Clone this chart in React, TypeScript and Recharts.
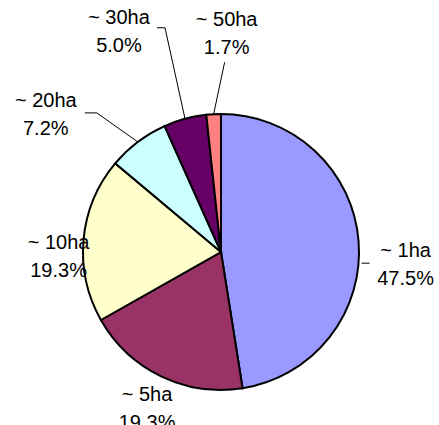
import { Cell, Pie, PieChart } from 'recharts'

const categories = ['~ 1ha', '~ 5ha', '~ 10ha', '~ 20ha', '~ 30ha', '~ 50ha']
const shares = [47.5, 19.3, 19.3, 7.2, 5.0, 1.7]
const colors = ['#9999FF', '#993366', '#FFFFCC', '#CCFFFF', '#660066', '#FF8080']

// label block offset from the slice edge point, plus leader polyline (relative to edge)
const labelLayout: { dx: number; dy: number; leader: number[][] | null }[] = [
  { dx: 47, dy: 23, leader: [[3, 22], [11, 22]] },
  { dx: -14, dy: 32, leader: null },
  { dx: -25, dy: 17, leader: null },
  { dx: -92, dy: -28, leader: [[0, 0], [-41, -29], [-53, -29]] },
  { dx: -66, dy: -88, leader: [[0, 0], [-20, -91], [-28, -91]] },
  { dx: 13, dy: -81, leader: [[0, 0], [11, -52]] },
]

const chartData = categories.map((name, i) => ({ name, value: shares[i] }))

const RADIAN = Math.PI / 180

function edgePoint(cx: number, cy: number, r: number, angle: number) {
  return { x: cx + r * Math.cos(-angle * RADIAN), y: cy + r * Math.sin(-angle * RADIAN) }
}

function renderLabel(props: any) {
  const { cx, cy, midAngle, outerRadius, index, name, value } = props
  const p = edgePoint(cx, cy, outerRadius, midAngle)
  const l = labelLayout[index]
  const x = p.x + l.dx
  const y = p.y + l.dy
  return (
    <text
      x={x}
      y={y}
      textAnchor="middle"
      fontFamily="'Liberation Sans', Arial, sans-serif"
      fontSize={20}
      fill="#000"
    >
      <tspan x={x} y={y - 14} dominantBaseline="central">{name}</tspan>
      <tspan x={x} y={y + 14} dominantBaseline="central">{Number(value).toFixed(1)}%</tspan>
    </text>
  )
}

function renderLabelLine(props: any) {
  const { points, index } = props
  const l = labelLayout[index]
  if (!l.leader) return <g />
  const p = points[0]
  const d = l.leader.map((pt, i) => `${i === 0 ? 'M' : 'L'}${p.x + pt[0]},${p.y + pt[1]}`).join(' ')
  return <path d={d} stroke="#000" strokeWidth={1} fill="none" />
}

export default function App() {
  return (
    <div style={{ position: 'absolute', left: 0, top: 0, background: '#fff' }}>
      <PieChart width={439} height={425} margin={{ top: 0, right: 0, bottom: 0, left: 0 }}>
        <Pie
          data={chartData}
          dataKey="value"
          nameKey="name"
          cx={221}
          cy={252}
          outerRadius={138}
          startAngle={90}
          endAngle={-270}
          stroke="#000"
          strokeWidth={2}
          label={renderLabel}
          labelLine={renderLabelLine}
          isAnimationActive={false}
        >
          {chartData.map((entry, i) => (
            <Cell key={entry.name} fill={colors[i]} />
          ))}
        </Pie>
      </PieChart>
    </div>
  )
}
